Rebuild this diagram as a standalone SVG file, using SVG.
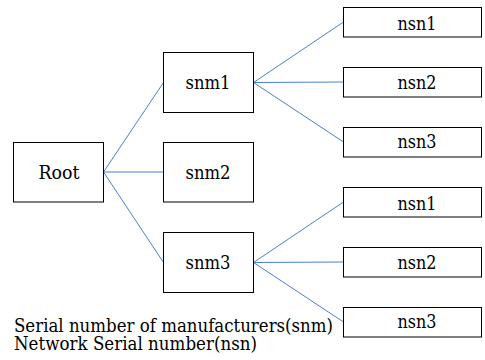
<svg xmlns="http://www.w3.org/2000/svg" width="485" height="360" viewBox="0 0 485 360">
<style>
.box{fill:#fff;stroke:#000;stroke-width:1}
.t{font-family:'DejaVu Serif','Liberation Serif',serif;font-size:19px;fill:#000}
.c{text-anchor:middle}
.ln{stroke:#4a7fd4;stroke-width:1;fill:none}
</style>
<rect width="485" height="360" fill="#fff"/>
<g id="connectors">
<line class="ln" x1="103.5" y1="172" x2="163.5" y2="82.5"/>
<line class="ln" x1="103.5" y1="172" x2="163.5" y2="172"/>
<line class="ln" x1="103.5" y1="172" x2="163.5" y2="262.5"/>
<line class="ln" x1="253.5" y1="82.5" x2="343.5" y2="22"/>
<line class="ln" x1="253.5" y1="82.5" x2="343.5" y2="82"/>
<line class="ln" x1="253.5" y1="82.5" x2="343.5" y2="142"/>
<line class="ln" x1="253.5" y1="262.5" x2="343.5" y2="202"/>
<line class="ln" x1="253.5" y1="262.5" x2="343.5" y2="262"/>
<line class="ln" x1="253.5" y1="262.5" x2="343.5" y2="322"/>
</g>
<g id="root"><rect class="box" x="13.5" y="142.5" width="90" height="59.5"/><text class="t c" x="59" y="179" textLength="41" lengthAdjust="spacingAndGlyphs">Root</text></g>
<g id="snm1"><rect class="box" x="163.5" y="52.5" width="90" height="60"/><text class="t c" x="208" y="89" textLength="45" lengthAdjust="spacingAndGlyphs">snm1</text></g>
<g id="snm2"><rect class="box" x="163.5" y="142.5" width="90" height="59.5"/><text class="t c" x="208" y="179" textLength="45" lengthAdjust="spacingAndGlyphs">snm2</text></g>
<g id="snm3"><rect class="box" x="163.5" y="232.5" width="90" height="60"/><text class="t c" x="208" y="269" textLength="45" lengthAdjust="spacingAndGlyphs">snm3</text></g>
<g id="nsn1a"><rect class="box" x="343.5" y="7.5" width="138" height="29.5"/><text class="t c" x="417" y="30" textLength="39" lengthAdjust="spacingAndGlyphs">nsn1</text></g>
<g id="nsn2a"><rect class="box" x="343.5" y="67.5" width="138" height="29.5"/><text class="t c" x="417" y="89" textLength="39" lengthAdjust="spacingAndGlyphs">nsn2</text></g>
<g id="nsn3a"><rect class="box" x="343.5" y="127.5" width="138" height="29.5"/><text class="t c" x="417" y="148" textLength="39" lengthAdjust="spacingAndGlyphs">nsn3</text></g>
<g id="nsn1b"><rect class="box" x="343.5" y="187.5" width="138" height="29.5"/><text class="t c" x="417" y="210" textLength="39" lengthAdjust="spacingAndGlyphs">nsn1</text></g>
<g id="nsn2b"><rect class="box" x="343.5" y="247.5" width="138" height="29.5"/><text class="t c" x="417" y="269" textLength="39" lengthAdjust="spacingAndGlyphs">nsn2</text></g>
<g id="nsn3b"><rect class="box" x="343.5" y="307.5" width="138" height="29.5"/><text class="t c" x="417" y="328" textLength="39" lengthAdjust="spacingAndGlyphs">nsn3</text></g>
<g id="legend">
<text class="t" x="14" y="331.5" textLength="319" lengthAdjust="spacingAndGlyphs">Serial number of manufacturers(snm)</text>
<text class="t" x="14" y="350" textLength="243" lengthAdjust="spacingAndGlyphs">Network Serial number(nsn)</text>
</g>
</svg>
